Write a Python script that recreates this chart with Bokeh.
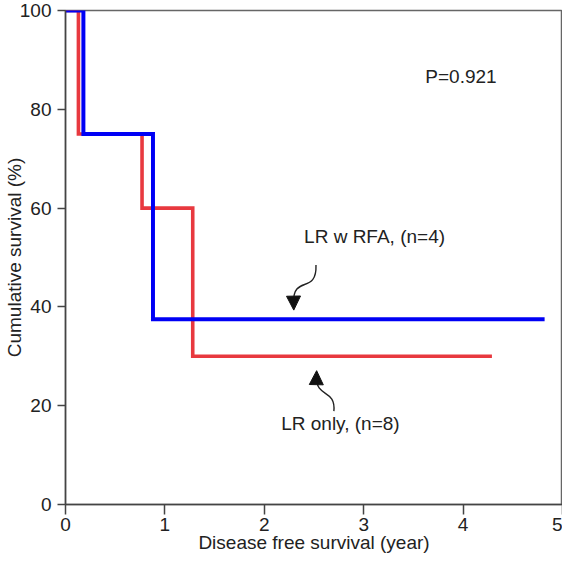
from bokeh.plotting import figure
from bokeh.embed import file_html
from bokeh.resources import INLINE
from bokeh.models import Range1d, Arrow, NormalHead, Label, FixedTicker

# Kaplan-Meier step data
red_x = [0, 0.13, 0.77, 1.28, 4.29]
red_y = [100, 75, 60, 30, 30]
blue_x = [0, 0.18, 0.88, 4.82]
blue_y = [100, 75, 37.5, 37.5]

x_ticks = [0, 1, 2, 3, 4, 5]
y_ticks = [0, 20, 40, 60, 80, 100]

p_label = "P=0.921"
p_pos = (3.62, 86.6)
blue_name = "LR w RFA, (n=4)"
blue_name_pos = (2.40, 54.2)
red_name = "LR only, (n=8)"
red_name_pos = (2.17, 16.3)

# curved arrows: start, control1, control2, tip
blue_arrow = [(2.52, 48.5), (2.53, 42.5), (2.29, 46.5), (2.295, 41.0)]
red_arrow = [(2.70, 18.9), (2.72, 23.5), (2.52, 21.5), (2.525, 25.8)]

RED = "#E8393F"
BLUE = "#0000F5"
FONT = "Liberation Sans"
FS = "19px"

p = figure(width=562, height=555, output_backend="svg", toolbar_location=None,
           x_range=Range1d(0, 5), y_range=Range1d(0, 100),
           min_border_left=0, min_border_right=0, min_border_top=10, min_border_bottom=0)

p.xgrid.visible = False
p.ygrid.visible = False
p.outline_line_color = "#666666"
p.outline_line_width = 1.5

for ax in (p.xaxis[0], p.yaxis[0]):
    ax.axis_line_color = "#444444"
    ax.axis_line_width = 1.5
    ax.major_tick_line_color = "#444444"
    ax.major_tick_line_width = 1.5
    ax.minor_tick_line_color = None
    ax.major_tick_in = 0
    ax.major_label_text_font = FONT
    ax.major_label_text_font_size = FS
    ax.major_label_text_color = "#222222"
    ax.axis_label_text_font = FONT
    ax.axis_label_text_font_size = FS
    ax.axis_label_text_font_style = "normal"
    ax.axis_label_text_color = "#222222"

p.xaxis.ticker = FixedTicker(ticks=x_ticks)
p.yaxis.ticker = FixedTicker(ticks=y_ticks)
p.xaxis.major_tick_out = 10
p.yaxis.major_tick_out = 8
p.xaxis.major_label_standoff = 3
p.yaxis.major_label_standoff = 6
p.xaxis.axis_label = "Disease free survival (year)"
p.yaxis.axis_label = "Cumulative survival (%)"
p.xaxis.axis_label_standoff = -2
p.yaxis.axis_label_standoff = -8

p.step(red_x, red_y, mode="after", line_color=RED, line_width=3.6, line_join="miter")
p.step(blue_x, blue_y, mode="after", line_color=BLUE, line_width=4, line_join="miter")

for txt, pos in ((p_label, p_pos), (blue_name, blue_name_pos), (red_name, red_name_pos)):
    p.add_layout(Label(x=pos[0], y=pos[1], text=txt, text_font=FONT, text_font_size=FS,
                       text_color="#222222", text_baseline="middle", text_align="left"))

for pts in (blue_arrow, red_arrow):
    (x0, y0), (c0x, c0y), (c1x, c1y), (x1, y1) = pts
    p.bezier(x0=[x0], y0=[y0], cx0=[c0x], cy0=[c0y], cx1=[c1x], cy1=[c1y], x1=[x1], y1=[y1],
             line_color="#222222", line_width=1.4)
    p.add_layout(Arrow(end=NormalHead(size=14, fill_color="#111111", line_color="#111111", line_width=1),
                       x_start=c1x + (x1 - c1x) * 0.7, y_start=c1y + (y1 - c1y) * 0.7,
                       x_end=x1 + (x1 - c1x) * 0.3, y_end=y1 + (y1 - c1y) * 0.3,
                       line_alpha=0))

open("out.html", "w").write(file_html(p, INLINE))
